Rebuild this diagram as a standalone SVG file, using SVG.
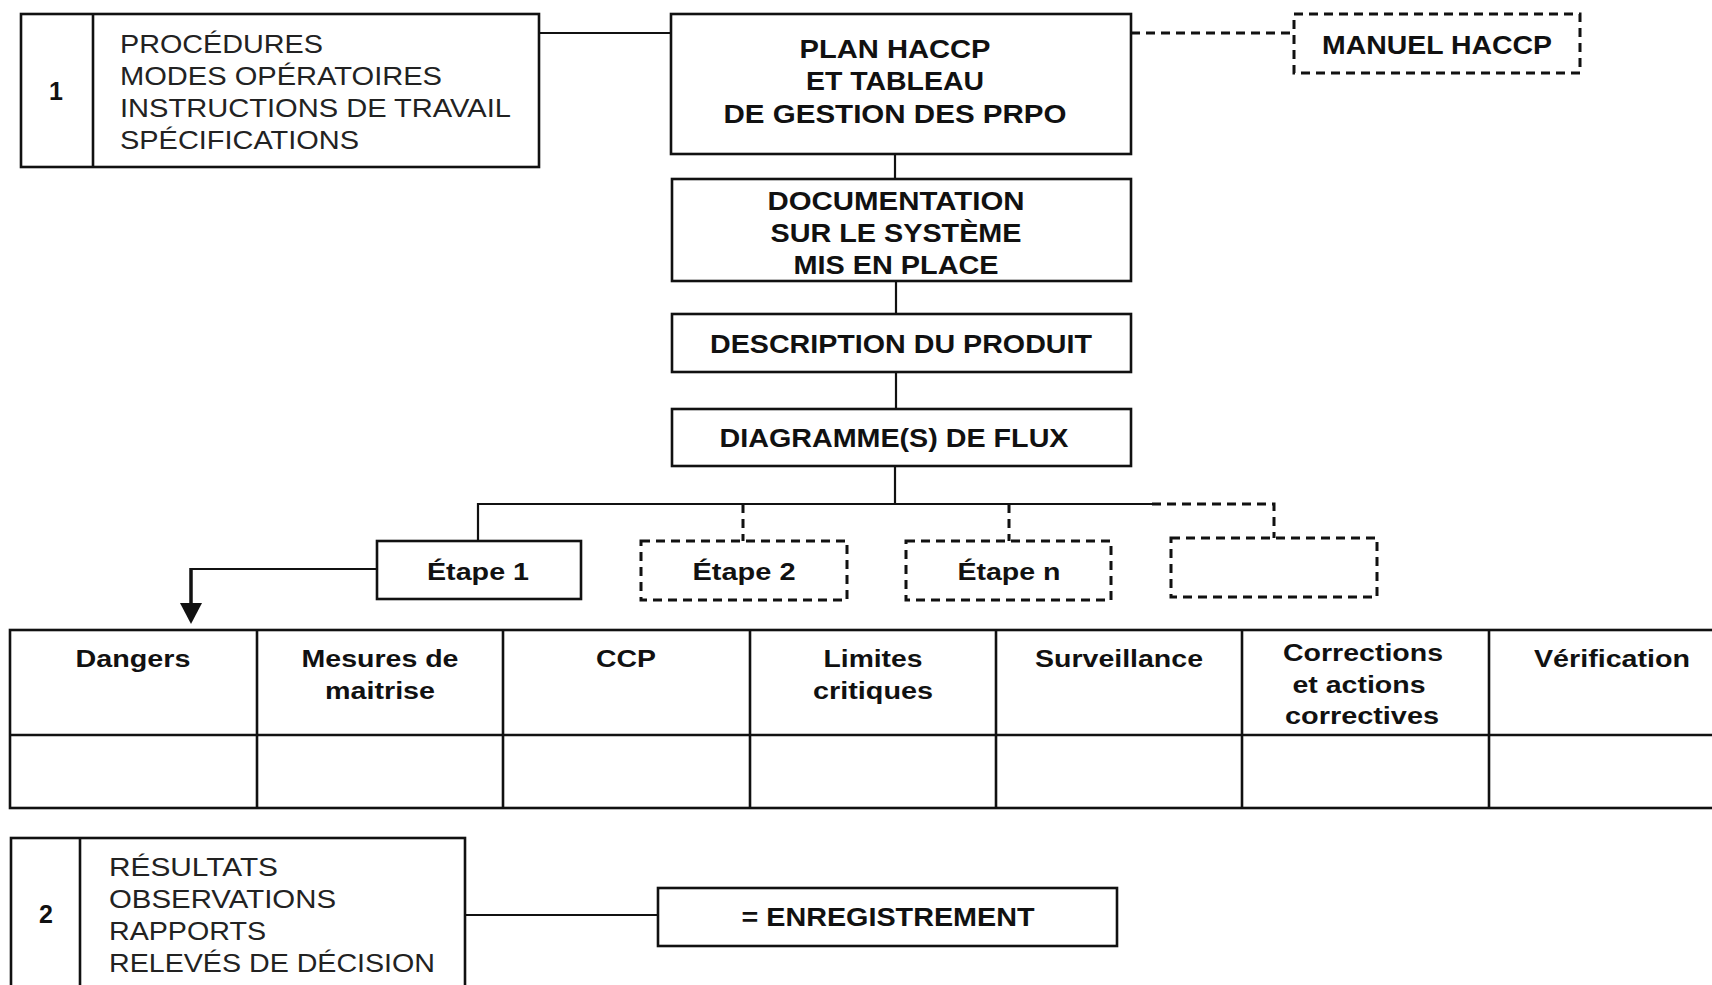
<svg xmlns="http://www.w3.org/2000/svg" width="1712" height="985" viewBox="0 0 1712 985">
  <style>
    .box { fill: #fff; stroke: #111; stroke-width: 2.6; }
    .dash { fill: #fff; stroke: #111; stroke-width: 3; stroke-dasharray: 9 6; }
    .line { fill: none; stroke: #111; stroke-width: 2.2; }
    .dline { fill: none; stroke: #111; stroke-width: 3; stroke-dasharray: 9 6; }
    .grid { fill: none; stroke: #111; stroke-width: 2.6; }
    .reg { font-family: "Liberation Sans", Arial, sans-serif; font-size: 26px; fill: #222; }
    .bold { font-family: "Liberation Sans", Arial, sans-serif; font-size: 25px; font-weight: bold; fill: #111; text-anchor: middle; }
    .head { font-family: "Liberation Sans", Arial, sans-serif; font-size: 23px; font-weight: bold; fill: #111; text-anchor: middle; }
  </style>
  <rect width="1712" height="985" fill="#fff"/>

  <!-- connectors -->
  <g id="connectors">
    <line class="line" x1="539" y1="33" x2="671" y2="33"/>
    <line class="dline" x1="1131" y1="33" x2="1294" y2="33"/>
    <line class="line" x1="895" y1="154" x2="895" y2="179"/>
    <line class="line" x1="896" y1="281" x2="896" y2="314"/>
    <line class="line" x1="896" y1="372" x2="896" y2="409"/>
    <line class="line" x1="895" y1="466" x2="895" y2="504"/>
    <polyline class="line" points="478,541 478,504 1152,504"/>
    <polyline class="dline" points="1152,504 1274,504 1274,538"/>
    <line class="dline" x1="743" y1="504" x2="743" y2="541"/>
    <line class="dline" x1="1009" y1="504" x2="1009" y2="541"/>
    <!-- step 1 to control table, with filled arrowhead -->
    <line class="line" x1="377" y1="569" x2="190" y2="569"/>
    <line class="line" x1="191" y1="568" x2="191" y2="606" style="stroke-width:3.5"/>
    <path d="M180,603 L202,603 L191,624 Z" fill="#111"/>
    <line class="line" x1="465" y1="915" x2="658" y2="915"/>
  </g>

  <!-- documents box 1 -->
  <g id="docs1">
    <rect class="box" x="21" y="14" width="518" height="153"/>
    <line class="grid" x1="93" y1="14" x2="93" y2="167"/>
    <text class="bold" x="56" y="100" font-size="22">1</text>
    <text class="reg" x="120" y="53" textLength="203" lengthAdjust="spacingAndGlyphs">PROCÉDURES</text>
    <text class="reg" x="120" y="85" textLength="322" lengthAdjust="spacingAndGlyphs">MODES OPÉRATOIRES</text>
    <text class="reg" x="120" y="117" textLength="391" lengthAdjust="spacingAndGlyphs">INSTRUCTIONS DE TRAVAIL</text>
    <text class="reg" x="120" y="149" textLength="239" lengthAdjust="spacingAndGlyphs">SPÉCIFICATIONS</text>
  </g>

  <g id="plan">
    <rect class="box" x="671" y="14" width="460" height="140"/>
    <text class="bold" x="895" y="58" textLength="191" lengthAdjust="spacingAndGlyphs">PLAN HACCP</text>
    <text class="bold" x="895" y="90" textLength="178" lengthAdjust="spacingAndGlyphs">ET TABLEAU</text>
    <text class="bold" x="895" y="123" textLength="343" lengthAdjust="spacingAndGlyphs">DE GESTION DES PRPO</text>
  </g>

  <g id="manuel">
    <rect class="dash" x="1294" y="14" width="286" height="59"/>
    <text class="bold" x="1437" y="54" textLength="230" lengthAdjust="spacingAndGlyphs">MANUEL HACCP</text>
  </g>

  <g id="documentation">
    <rect class="box" x="672" y="179" width="459" height="102"/>
    <text class="bold" x="896" y="210" textLength="257" lengthAdjust="spacingAndGlyphs">DOCUMENTATION</text>
    <text class="bold" x="896" y="242" textLength="251" lengthAdjust="spacingAndGlyphs">SUR LE SYSTÈME</text>
    <text class="bold" x="896" y="274" textLength="205" lengthAdjust="spacingAndGlyphs">MIS EN PLACE</text>
  </g>

  <g id="description">
    <rect class="box" x="672" y="314" width="459" height="58"/>
    <text class="bold" x="901" y="353" textLength="382" lengthAdjust="spacingAndGlyphs">DESCRIPTION DU PRODUIT</text>
  </g>

  <g id="diagramme">
    <rect class="box" x="672" y="409" width="459" height="57"/>
    <text class="bold" x="894" y="447" textLength="349" lengthAdjust="spacingAndGlyphs">DIAGRAMME(S) DE FLUX</text>
  </g>

  <g id="etape1">
    <rect class="box" x="377" y="541" width="204" height="58"/>
    <text class="head" x="478" y="580" textLength="102" lengthAdjust="spacingAndGlyphs">Étape 1</text>
  </g>
  <g id="etape2">
    <rect class="dash" x="641" y="541" width="206" height="59"/>
    <text class="head" x="744" y="580" textLength="103" lengthAdjust="spacingAndGlyphs">Étape 2</text>
  </g>
  <g id="etapen">
    <rect class="dash" x="906" y="541" width="205" height="59"/>
    <text class="head" x="1009" y="580" textLength="103" lengthAdjust="spacingAndGlyphs">Étape n</text>
  </g>
  <g id="etapex">
    <rect class="dash" x="1171" y="538" width="206" height="59"/>
  </g>

  <!-- control table -->
  <g id="table">
    <rect class="grid" x="10" y="630" width="1730" height="178"/>
    <line class="grid" x1="10" y1="735" x2="1740" y2="735"/>
    <line class="grid" x1="257" y1="630" x2="257" y2="808"/>
    <line class="grid" x1="503" y1="630" x2="503" y2="808"/>
    <line class="grid" x1="750" y1="630" x2="750" y2="808"/>
    <line class="grid" x1="996" y1="630" x2="996" y2="808"/>
    <line class="grid" x1="1242" y1="630" x2="1242" y2="808"/>
    <line class="grid" x1="1489" y1="630" x2="1489" y2="808"/>
    <text class="head" x="133" y="667" textLength="115" lengthAdjust="spacingAndGlyphs">Dangers</text>
    <text class="head" x="380" y="667" textLength="157" lengthAdjust="spacingAndGlyphs">Mesures de</text>
    <text class="head" x="380" y="699" textLength="110" lengthAdjust="spacingAndGlyphs">maitrise</text>
    <text class="head" x="626" y="667" textLength="60" lengthAdjust="spacingAndGlyphs">CCP</text>
    <text class="head" x="873" y="667" textLength="99" lengthAdjust="spacingAndGlyphs">Limites</text>
    <text class="head" x="873" y="699" textLength="120" lengthAdjust="spacingAndGlyphs">critiques</text>
    <text class="head" x="1119" y="667" textLength="168" lengthAdjust="spacingAndGlyphs">Surveillance</text>
    <text class="head" x="1363" y="661" textLength="160" lengthAdjust="spacingAndGlyphs">Corrections</text>
    <text class="head" x="1359" y="693" textLength="133" lengthAdjust="spacingAndGlyphs">et actions</text>
    <text class="head" x="1362" y="724" textLength="154" lengthAdjust="spacingAndGlyphs">correctives</text>
    <text class="head" x="1612" y="667" textLength="156" lengthAdjust="spacingAndGlyphs">Vérification</text>
  </g>

  <!-- documents box 2 -->
  <g id="docs2">
    <rect class="box" x="11" y="838" width="454" height="160"/>
    <line class="grid" x1="80" y1="838" x2="80" y2="998"/>
    <text class="bold" x="46" y="923" font-size="22">2</text>
    <text class="reg" x="109" y="876" textLength="169" lengthAdjust="spacingAndGlyphs">RÉSULTATS</text>
    <text class="reg" x="109" y="908" textLength="227" lengthAdjust="spacingAndGlyphs">OBSERVATIONS</text>
    <text class="reg" x="109" y="940" textLength="157" lengthAdjust="spacingAndGlyphs">RAPPORTS</text>
    <text class="reg" x="109" y="972" textLength="326" lengthAdjust="spacingAndGlyphs">RELEVÉS DE DÉCISION</text>
  </g>

  <g id="enregistrement">
    <rect class="box" x="658" y="888" width="459" height="58"/>
    <text class="bold" x="888" y="926" textLength="293" lengthAdjust="spacingAndGlyphs">= ENREGISTREMENT</text>
  </g>
</svg>
